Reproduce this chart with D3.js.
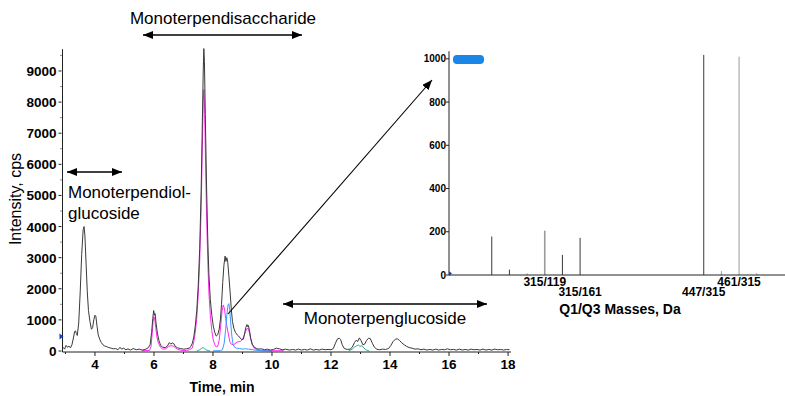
<!DOCTYPE html>
<html>
<head>
<meta charset="utf-8">
<script src="https://cdn.jsdelivr.net/npm/d3@7"></script>
<style>
body { margin: 0; background: #fff; }
text { font-family: Arial, "Liberation Sans", sans-serif; fill: #000; }
</style>
</head>
<body>
<div id="chart"></div>
<script>
// chromatogram traces, [time in min, intensity in cps]
const blackTrace = [
  [2.92,120],[2.97,60],[3.02,180],[3.07,120],[3.12,160],[3.17,100],[3.22,200],[3.27,420],[3.31,620],[3.34,650],
  [3.37,560],[3.40,500],[3.45,900],[3.50,1900],[3.55,3100],[3.60,3900],[3.63,4000],[3.66,3700],[3.70,2800],[3.74,1900],
  [3.78,1300],[3.83,950],[3.88,700],[3.92,750],[3.96,1000],[4.00,1150],[4.03,1120],[4.07,800],[4.11,520],[4.16,380],
  [4.21,280],[4.27,200],[4.33,160],[4.40,140],[4.47,110],[4.55,90],[4.62,70],[4.70,80],[4.78,40],[4.85,120],
  [4.90,60],[4.97,90],[5.05,40],[5.12,70],[5.20,30],[5.30,80],[5.40,40],[5.50,60],[5.60,30],[5.70,50],
  [5.80,100],[5.87,200],[5.92,600],[5.96,1050],[5.99,1300],[6.02,1150],[6.04,1200],[6.07,900],[6.12,550],[6.17,330],
  [6.23,170],[6.30,120],[6.38,110],[6.45,150],[6.52,270],[6.57,220],[6.62,260],[6.67,240],[6.72,150],[6.80,100],
  [6.90,80],[7.00,60],[7.10,70],[7.20,90],[7.25,150],[7.30,250],[7.35,450],[7.40,800],[7.45,1300],[7.50,2100],
  [7.55,3300],[7.60,5200],[7.64,7400],[7.67,9000],[7.69,9720],[7.71,9300],[7.74,7600],[7.78,5400],[7.82,3700],[7.86,2500],
  [7.91,1650],[7.96,1150],[8.01,800],[8.06,600],[8.11,480],[8.16,520],[8.21,700],[8.25,1000],[8.29,1500],[8.33,2200],
  [8.37,2750],[8.41,3050],[8.44,2880],[8.47,3000],[8.50,2850],[8.54,2400],[8.58,1900],[8.62,1350],[8.66,950],[8.71,720],
  [8.76,600],[8.82,520],[8.87,480],[8.92,420],[8.97,370],[9.03,380],[9.07,550],[9.11,750],[9.15,850],[9.18,780],
  [9.20,820],[9.24,650],[9.28,400],[9.33,220],[9.40,120],[9.48,80],[9.55,60],[9.65,70],[9.75,40],[9.85,60],
  [9.95,30],[10.05,50],[10.15,90],[10.25,70],[10.35,40],[10.45,60],[10.60,30],[10.70,50],[10.80,30],[10.90,60],
  [11.00,30],[11.10,50],[11.20,30],[11.30,70],[11.40,30],[11.50,50],[11.60,30],[11.70,60],[11.80,40],[11.90,50],
  [12.00,40],[12.08,80],[12.15,250],[12.22,390],[12.28,410],[12.33,360],[12.38,200],[12.45,80],[12.55,50],[12.65,60],
  [12.72,120],[12.80,280],[12.86,350],[12.90,300],[12.96,420],[13.02,330],[13.08,200],[13.14,220],[13.20,330],[13.27,410],
  [13.33,400],[13.40,250],[13.47,120],[13.55,60],[13.65,40],[13.75,60],[13.85,50],[13.95,80],[14.03,180],[14.10,300],
  [14.18,380],[14.25,390],[14.32,340],[14.40,260],[14.48,200],[14.56,150],[14.65,110],[14.75,90],[14.85,60],[14.95,70],
  [15.05,40],[15.15,60],[15.25,30],[15.35,50],[15.45,30],[15.55,60],[15.65,30],[15.75,50],[15.85,40],[15.95,70],
  [16.05,40],[16.15,50],[16.25,30],[16.35,60],[16.45,30],[16.55,50],[16.65,30],[16.75,60],[16.85,40],[16.95,50],
  [17.05,30],[17.15,60],[17.25,30],[17.35,50],[17.45,30],[17.55,60],[17.65,40],[17.75,50],[17.85,30],[17.95,50],[18.05,40]
];
const magentaTrace = [
  [5.60,10],[5.80,15],[5.85,20],[5.90,150],[5.94,550],[5.97,950],[6.00,1100],[6.03,1000],[6.06,750],[6.10,450],
  [6.15,250],[6.22,120],[6.30,60],[6.40,70],[6.50,150],[6.58,170],[6.65,160],[6.72,110],[6.80,50],[6.95,20],
  [7.10,15],[7.20,40],[7.30,100],[7.35,300],[7.40,600],[7.45,1050],[7.50,1800],[7.55,2900],[7.60,4600],[7.64,6600],
  [7.67,8000],[7.69,8400],[7.71,8000],[7.74,6500],[7.78,4500],[7.82,3000],[7.86,1900],[7.91,1150],[7.96,650],[8.01,350],
  [8.06,200],[8.11,130],[8.16,150],[8.21,350],[8.26,800],[8.31,1300],[8.35,1480],[8.39,1350],[8.43,1050],[8.47,800],
  [8.52,550],[8.57,300],[8.62,220],[8.70,200],[8.78,260],[8.85,300],[8.92,300],[8.98,350],[9.04,450],[9.10,620],
  [9.15,720],[9.19,730],[9.23,600],[9.28,380],[9.33,200],[9.40,90],[9.50,40],[9.60,20],[10.00,10],[10.40,10]
];
const blueTrace = [
  [8.00,5],[8.25,10],[8.32,40],[8.38,250],[8.43,700],[8.47,1150],[8.51,1480],[8.54,1520],[8.57,1300],[8.60,900],
  [8.64,480],[8.68,220],[8.73,120],[8.80,90],[8.90,80],[9.00,60],[9.10,70],[9.20,60],[9.35,40],[9.50,20],[9.70,10],[10.00,5]
];
const tealTraceA = [[7.45,0],[7.55,40],[7.62,90],[7.67,110],[7.72,70],[7.80,20],[7.90,0]];
const tealTraceB = [
  [12.60,0],[12.72,60],[12.80,130],[12.87,170],[12.93,190],[12.98,150],[13.05,170],[13.12,90],[13.20,30],[13.30,0]
];
const timeTicks = [4, 6, 8, 10, 12, 14, 16, 18];
const intensityTicks = [0, 1000, 2000, 3000, 4000, 5000, 6000, 7000, 8000, 9000];

// inset: MRM transitions of the selected peak
const channelIndex = [0, 1, 2, 3, 4, 5, 6, 7, 8, 9, 10, 11, 12, 13, 14, 15];
const channelValues = [178, 25, 8, 205, 93, 172, 0, 0, 0, 0, 0, 0, 1018, 18, 1010, 8];
const channelLabels = ['', '', '', '315/119', '', '315/161', '', '', '', '', '', '', '447/315', '', '461/315', ''];
const spectrumTicks = [0, 200, 400, 600, 800, 1000];

// chart setup
let svg = d3.select('#chart').append('svg').attr('width', 785).attr('height', 396);
let x = d3.scaleLinear().domain([2.9, 18.1]).range([62.5, 511]);
let y = d3.scaleLinear().domain([0, 9700]).range([351, 49.2]);
let xs = d3.scaleLinear().domain([-2.42, 16.6]).range([449, 785]);
let ys = d3.scaleLinear().domain([0, 1050]).range([275, 48]);
const axisColor = '#222';

let defs = svg.append('defs');
defs.append('marker')
  .attr('id', 'head')
  .attr('viewBox', '0 0 10 8')
  .attr('refX', 10).attr('refY', 4)
  .attr('markerWidth', 10).attr('markerHeight', 8)
  .attr('markerUnits', 'userSpaceOnUse')
  .attr('orient', 'auto-start-reverse')
  .append('path').attr('d', 'M0,0L10,4L0,8Z').attr('fill', '#000');

function drawChromatogram() {
  const line = d3.line().x(d => x(d[0])).y(d => y(d[1]));
  const traces = [
    { data: tealTraceA, color: '#3aa6a0' },
    { data: tealTraceB, color: '#3aa6a0' },
    { data: magentaTrace, color: '#ff2bf0' },
    { data: blueTrace, color: '#3d9bff' },
    { data: blackTrace, color: '#3a3a3a' }
  ];
  svg.append('g').selectAll('path')
    .data(traces)
    .enter().append('path')
    .attr('d', d => line(d.data))
    .attr('fill', 'none')
    .attr('stroke', d => d.color)
    .attr('stroke-width', 1);

  // axes
  const g = svg.append('g').attr('class', 'axes');
  g.append('line').attr('x1', x(2.9)).attr('x2', x(2.9)).attr('y1', y(9700)).attr('y2', y(0) + 1)
    .attr('stroke', axisColor);
  g.append('line').attr('x1', x(2.9)).attr('x2', x(18.1)).attr('y1', y(0) + 1).attr('y2', y(0) + 1)
    .attr('stroke', axisColor);

  g.selectAll('.ytick')
    .data(d3.range(0, 9700, 500))
    .enter().append('line')
    .attr('x1', x(2.9) - 1).attr('x2', d => x(2.9) - (d % 1000 === 0 ? 4 : 2))
    .attr('y1', d => y(d)).attr('y2', d => y(d))
    .attr('stroke', axisColor);
  g.selectAll('.ylab')
    .data(intensityTicks)
    .enter().append('text')
    .attr('x', x(2.9) - 6).attr('y', d => y(d) + 5)
    .attr('text-anchor', 'end')
    .style('font-size', '13.5px').style('font-weight', 'bold')
    .text(d => d);

  g.selectAll('.xtick')
    .data(d3.range(3, 18.5, 1))
    .enter().append('line')
    .attr('x1', d => x(d)).attr('x2', d => x(d))
    .attr('y1', y(0) + 1).attr('y2', d => y(0) + (d % 2 === 0 ? 5 : 3))
    .attr('stroke', axisColor);
  g.selectAll('.xlab')
    .data(timeTicks)
    .enter().append('text')
    .attr('x', d => x(d)).attr('y', 369)
    .attr('text-anchor', 'middle')
    .style('font-size', '13.5px').style('font-weight', 'bold')
    .text(d => d);

  svg.append('text')
    .attr('x', 222).attr('y', 392)
    .attr('text-anchor', 'middle')
    .style('font-size', '14px').style('font-weight', 'bold')
    .text('Time, min');
  svg.append('text')
    .attr('transform', 'translate(21, 199) rotate(-90)')
    .attr('text-anchor', 'middle')
    .style('font-size', '16px')
    .text('Intensity, cps');

  // cursor marker on the y axis
  svg.append('path')
    .attr('d', `M${x(2.9) - 3},${y(560)}l4,3l-4,3z`)
    .attr('fill', '#1a3fb0');
}

function drawSpectrum() {
  const g = svg.append('g').attr('class', 'inset');
  const lightChannels = [2, 3, 13, 14, 15];

  g.selectAll('.bar')
    .data(channelIndex)
    .enter().append('line')
    .attr('x1', d => xs(d)).attr('x2', d => xs(d))
    .attr('y1', ys(0)).attr('y2', d => ys(channelValues[d]))
    .attr('stroke', d => lightChannels.includes(d) ? '#9a9a9a' : '#3a3a3a')
    .attr('stroke-width', d => d === 3 ? 1.6 : 1);

  g.append('line').attr('x1', xs(-2.42)).attr('x2', xs(16.6)).attr('y1', ys(0)).attr('y2', ys(0))
    .attr('stroke', axisColor);
  g.append('line').attr('x1', xs(-2.42)).attr('x2', xs(-2.42)).attr('y1', ys(1035)).attr('y2', ys(0))
    .attr('stroke', axisColor);

  g.selectAll('.ytick')
    .data(spectrumTicks)
    .enter().append('line')
    .attr('x1', xs(-2.42) - 3).attr('x2', xs(-2.42))
    .attr('y1', d => ys(d)).attr('y2', d => ys(d))
    .attr('stroke', axisColor);
  g.selectAll('.ylab')
    .data(spectrumTicks)
    .enter().append('text')
    .attr('x', xs(-2.42) - 3).attr('y', d => ys(d) + 3.5)
    .attr('text-anchor', 'end')
    .style('font-size', '10px').style('font-weight', 'bold')
    .text(d => d);

  // outer labels sit on the upper row, inner ones drop a row
  const labelled = channelIndex.filter(d => channelLabels[d] !== '');
  g.selectAll('.xlab')
    .data(labelled)
    .enter().append('text')
    .attr('x', d => xs(d)).attr('y', (d, i) => i % 3 === 0 ? 286 : 296)
    .attr('text-anchor', 'middle')
    .style('font-size', '12px').style('font-weight', 'bold')
    .text(d => channelLabels[d]);

  g.append('text')
    .attr('x', 620).attr('y', 314)
    .attr('text-anchor', 'middle')
    .style('font-size', '14px').style('font-weight', 'bold')
    .text('Q1/Q3 Masses, Da');

  g.append('rect')
    .attr('x', 453).attr('y', 55).attr('width', 31).attr('height', 9)
    .attr('rx', 4)
    .attr('fill', '#1a86e6');
  g.append('path')
    .attr('d', `M${xs(-2.42)},${ys(0) - 4}l3,2.5l-3,2.5z`)
    .attr('fill', '#1a3fb0');
}

function drawAnnotations() {
  const arrows = [
    { x1: 143, y1: 35, x2: 302, y2: 35, both: true },
    { x1: 67, y1: 172, x2: 122, y2: 172, both: true },
    { x1: 283, y1: 304, x2: 487, y2: 304, both: true },
    { x1: 228, y1: 314, x2: 432, y2: 80, both: false }
  ];
  svg.append('g').selectAll('line')
    .data(arrows)
    .enter().append('line')
    .attr('x1', d => d.x1).attr('y1', d => d.y1)
    .attr('x2', d => d.x2).attr('y2', d => d.y2)
    .attr('stroke', '#000')
    .attr('stroke-width', d => d.both ? 1.6 : 1.1)
    .attr('marker-start', d => d.both ? 'url(#head)' : null)
    .attr('marker-end', 'url(#head)');

  const notes = [
    { text: 'Monoterpendisaccharide', x: 223, y: 24, anchor: 'middle' },
    { text: 'Monoterpendiol-', x: 68, y: 198, anchor: 'start' },
    { text: 'glucoside', x: 68, y: 219, anchor: 'start' },
    { text: 'Monoterpenglucoside', x: 385, y: 324, anchor: 'middle' }
  ];
  svg.append('g').selectAll('text')
    .data(notes)
    .enter().append('text')
    .attr('x', d => d.x).attr('y', d => d.y)
    .attr('text-anchor', d => d.anchor)
    .style('font-size', '17px')
    .text(d => d.text);
}

drawChromatogram();
drawSpectrum();
drawAnnotations();
</script>
</body>
</html>
